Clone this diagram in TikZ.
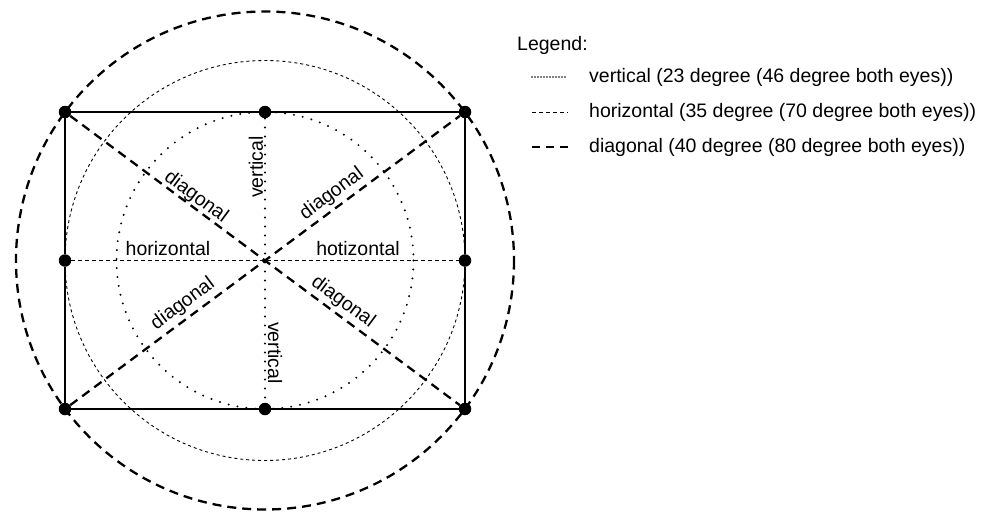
\documentclass[tikz,border=0pt]{standalone}
\usepackage{fontspec}
\setmainfont{Liberation Sans}
\usetikzlibrary{calc}
\begin{document}
\begin{tikzpicture}[x=1pt,y=-1pt,
  every node/.style={font=\fontsize{19.5}{23}\selectfont, inner sep=0pt},
  pt/.style={circle, fill=black, minimum size=12.5pt, inner sep=0pt},
  diagline/.style={line width=2.3pt, dash pattern=on 9pt off 6pt},
  horline/.style={line width=0.9pt, dash pattern=on 4pt off 3pt},
  horcircle/.style={line width=0.9pt, dash pattern=on 3pt off 3pt},
  vertline/.style={line width=2.2pt, line cap=round, dash pattern=on 0pt off 9pt},
  legvert/.style={line width=1.6pt, line cap=round, dash pattern=on 0pt off 3pt},
  frame/.style={line width=1.2pt}]
\useasboundingbox (0,0) rectangle (1005,512);
\coordinate (c) at (265,260.5);
% circles
\draw[diagline] (c) circle[radius=249];
\draw[horcircle] (c) circle[radius=200];
\draw[vertline] (c) circle[radius=148.5];
% points
\node[pt] (tl) at (65,112) {};
\node[pt] (tm) at (265,112) {};
\node[pt] (tr) at (465,112) {};
\node[pt] (ml) at (65,260.5) {};
\node[pt] (mr) at (465,260.5) {};
\node[pt] (bl) at (65,409) {};
\node[pt] (bm) at (265,409) {};
\node[pt] (br) at (465,409) {};
% rectangle
\draw[frame] (tl) -- (tm) -- (tr) -- (mr) -- (br) -- (bm) -- (bl) -- (ml) -- (tl);
% axes
\draw[horline] (ml) -- (mr);
\draw[vertline] (tm) -- (bm);
\draw[diagline] (tl) -- (br);
\draw[diagline] (bl) -- (tr);
% labels
\node[rotate=-36.6] (d1) at (196,197) {diagonal};
\node[rotate=36.6] (d2) at (332,194) {diagonal};
\node[rotate=36.6] (d3) at (183,304) {diagonal};
\node[rotate=-36.6] (d4) at (343,302) {diagonal};
\node[rotate=90] (v1) at (256,167) {vertical};
\node[rotate=-90] (v2) at (275,353) {vertical};
\node (h1) at (168,249) {horizontal};
\node (h2) at (358,249) {hotizontal};
% legend
\node[anchor=west] (leg) at (517,45) {Legend:};
\node[anchor=west] (l1) at (589,77) {vertical (23 degree (46 degree both eyes))};
\node[anchor=west] (l2) at (589,112) {horizontal (35 degree (70 degree both eyes))};
\node[anchor=west] (l3) at (589,147) {diagonal (40 degree (80 degree both eyes))};
\coordinate (a1) at ($(l1.west)+(-57,0)$);
\coordinate (b1) at ($(l1.west)+(-21,0)$);
\coordinate (a2) at ($(l2.west)+(-57,0)$);
\coordinate (b2) at ($(l2.west)+(-21,0)$);
\coordinate (a3) at ($(l3.west)+(-57,0)$);
\coordinate (b3) at ($(l3.west)+(-21,0)$);
\draw[legvert] (a1) -- (b1);
\draw[horline] (a2) -- (b2);
\draw[line width=2.3pt, dash pattern=on 8pt off 6pt] (a3) -- (b3);
\end{tikzpicture}
\end{document}
